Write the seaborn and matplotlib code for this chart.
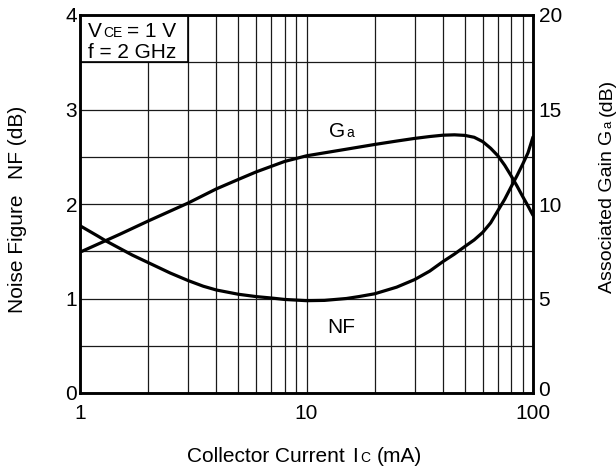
import matplotlib
matplotlib.use("Agg")
import matplotlib.pyplot as plt
import seaborn as sns
from matplotlib import transforms as mtransforms
from matplotlib.patches import Rectangle
from matplotlib.ticker import FixedLocator, FixedFormatter, NullFormatter

# ---- data ----
current_nf = [1, 1.2, 1.3, 1.5, 1.7, 2, 2.5, 3, 3.5, 4, 5, 6, 7, 8, 10, 12, 15, 17, 20,
              25, 30, 35, 40, 45, 50, 55, 60, 65, 70, 75, 80, 85, 90, 95, 100]
nf_db = [1.77, 1.66, 1.61, 1.53, 1.46, 1.38, 1.27, 1.19, 1.13, 1.09, 1.045, 1.02, 1.005,
         0.99, 0.977, 0.98, 1.0, 1.02, 1.05, 1.12, 1.2, 1.29, 1.39, 1.47, 1.55, 1.62,
         1.7, 1.8, 1.93, 2.05, 2.18, 2.3, 2.42, 2.54, 2.71]

current_ga = [1, 1.5, 2, 3, 4, 5, 6, 8, 10, 15, 20, 25, 30, 35, 40, 45, 50, 55, 60, 65,
              70, 75, 80, 85, 90, 95, 100]
ga_db = [7.45, 8.4, 9.1, 10.05, 10.8, 11.3, 11.7, 12.25, 12.55, 12.9, 13.15, 13.33, 13.47,
         13.57, 13.64, 13.66, 13.63, 13.53, 13.3, 12.95, 12.55, 12.05, 11.5, 10.95, 10.4,
         9.9, 9.4]

x_ticks = [1, 10, 100]
x_tick_labels = ["1", "10", "100"]
x_minor = [2, 3, 4, 5, 6, 7, 8, 9, 20, 30, 40, 50, 60, 70, 80, 90]
nf_ticks = [0, 1, 2, 3, 4]
nf_minor = [0.5, 1.5, 2.5, 3.5]
ga_ticks = [0, 5, 10, 15, 20]

sns.set_style("white")
plt.rcParams["font.family"] = ["Liberation Sans", "DejaVu Sans"]

FS = 15
FS_SUB = 10

W, H = 616, 470
fig = plt.figure(figsize=(W / 100, H / 100), dpi=100)
ax = fig.add_axes([80 / W, 1 - 393 / H, 453 / W, 378 / H])
ax.set_xscale("log")
ax.set_xlim(1, 100)
ax.set_ylim(0, 4)
ax2 = ax.twinx()
ax2.set_ylim(0, 20)

sns.lineplot(x=current_nf, y=nf_db, ax=ax, color="black", lw=2.3)
sns.lineplot(x=current_ga, y=ga_db, ax=ax2, color="black", lw=2.3)

ax.xaxis.set_major_locator(FixedLocator(x_ticks))
ax.xaxis.set_major_formatter(FixedFormatter(x_tick_labels))
ax.xaxis.set_minor_locator(FixedLocator(x_minor))
ax.xaxis.set_minor_formatter(NullFormatter())
ax.yaxis.set_major_locator(FixedLocator(nf_ticks))
ax.yaxis.set_minor_locator(FixedLocator(nf_minor))
ax2.yaxis.set_major_locator(FixedLocator(ga_ticks))

ax.set_axisbelow(True)
ax.grid(which="both", color="#1a1a1a", lw=0.9)
ax2.grid(False)

ax.tick_params(which="both", length=0, labelsize=FS, colors="black")
ax.tick_params(axis="x", pad=8)
ax.tick_params(axis="y", pad=2)
ax2.tick_params(which="both", length=0, labelsize=FS, colors="black", pad=4)
ax.set_xlabel("")
ax.set_ylabel("")
ax2.set_ylabel("")

# keep the bottom-right "0" clear of "100"
for lbl in ax2.get_yticklabels():
    if lbl.get_text() == "0":
        lbl.set_va("bottom")
        lbl.set_y(0)
        lbl.set_transform(lbl.get_transform() + mtransforms.Affine2D().translate(0, -7))

for a in (ax, ax2):
    for s in a.spines.values():
        s.set_color("black")
        s.set_linewidth(1.8)

# condition box
ax.add_patch(Rectangle((1, 3.5), 2, 0.5, transform=ax.transData, facecolor="white",
                       edgecolor="black", lw=1.2, zorder=2.5))

renderer = fig.canvas.get_renderer()


def rich(x, y, pieces, transform, rotation=0):
    t = transform
    for s, size, gap in pieces:
        txt = fig.text(x, y, s, transform=t, fontsize=size, rotation=rotation,
                       rotation_mode="anchor", ha="left", va="baseline",
                       color="black", zorder=6)
        bb = txt.get_window_extent(renderer)
        w = (bb.height if rotation == 90 else bb.width) + gap
        if rotation == 90:
            t = t + mtransforms.Affine2D().translate(0, w)
        else:
            t = t + mtransforms.Affine2D().translate(w, 0)


def figpx(px, py):
    return px / W, 1 - py / H


rich(*figpx(88, 37), [("V", FS, 1), ("CE", FS_SUB, 5), ("= 1 V", FS, 0)], fig.transFigure)
rich(*figpx(88, 57.5), [("f = 2 GHz", FS, 0)], fig.transFigure)

rich(*figpx(329.5, 136.7), [("G", FS, 1), ("a", FS_SUB, 0)], fig.transFigure)
rich(*figpx(327, 333.3), [("NF", FS, 0)], fig.transFigure)

rich(*figpx(186.7, 461.5), [("Collector Current", FS, 8), ("I", FS, 2), ("C", FS_SUB, 7),
                           ("(mA)", FS, 0)], fig.transFigure)
rich(*figpx(23.3, 313.3), [("Noise Figure", FS, 16), ("NF (dB)", FS, 0)], fig.transFigure,
     rotation=90)
rich(*figpx(611.5, 293.3), [("Associated Gain", 14, 6), ("G", 14, 1), ("a", 9.5, 5),
                           ("(dB)", 14, 0)], fig.transFigure, rotation=90)

fig.savefig("out.png", dpi=100)
